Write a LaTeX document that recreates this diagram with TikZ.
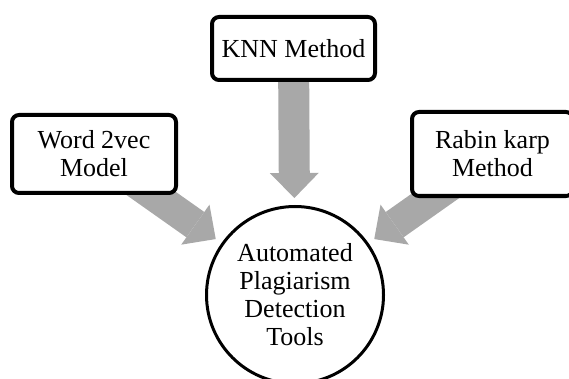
\documentclass[tikz,border=0pt]{standalone}
\usepackage{fontspec}
\setmainfont{Liberation Serif}
\usetikzlibrary{arrows.meta}
\pgfdeclarelayer{bg}
\pgfsetlayers{bg,main}
\definecolor{arrowgray}{RGB}{168,168,168}
\begin{document}
\begin{tikzpicture}[x=1pt,y=-1pt,
  txt/.style={font=\fontsize{26}{28}\selectfont, align=center},
  box/.style={txt, draw, line width=4pt, rounded corners=7pt, fill=white, inner sep=0pt},
  hub/.style={txt, circle, draw, line width=3pt, fill=white, minimum size=177pt, inner sep=0pt},
  fat/.style={draw=arrowgray, line width=31pt,
    -{Triangle[width=49pt,length=25pt,line width=0pt]}, shorten >=7pt}]
\clip (0,0) rectangle (569,379);
\node[box, minimum width=163pt, minimum height=63pt] (knn) at (293.5,48.5) {KNN Method};
\node[box, minimum width=164pt, minimum height=78pt] (word) at (94,154) {Word 2vec\\Model};
\node[box, minimum width=161pt, minimum height=84pt] (rabin) at (492.5,154) {Rabin karp\\Method};
\node[hub] (tools) at (295,295) {Automated\\Plagiarism\\Detection\\Tools};
\coordinate (ws) at (125,175);
\coordinate (rs) at (465,175);
\begin{pgfonlayer}{bg}
  \draw[fat] (knn.center) -- (tools);
  \draw[fat] (ws) -- (tools);
  \draw[fat] (rs) -- (tools);
\end{pgfonlayer}
\end{tikzpicture}
\end{document}
